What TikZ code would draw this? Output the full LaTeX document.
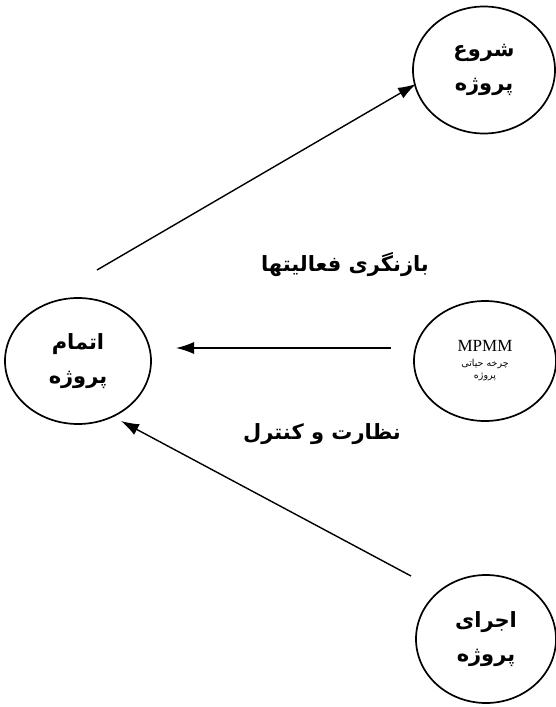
\documentclass[tikz,border=0pt]{standalone}
\usepackage{fontspec}
\usetikzlibrary{shapes.geometric,arrows.meta}
\TeXXeTstate=1
\setmainfont{Liberation Serif}
\newfontfamily\arabicfont[Script=Arabic]{DejaVu Sans}
\tikzset{
  circ/.style={draw, line width=1.7pt, ellipse, inner sep=0pt, align=center,
    font=\arabicfont\bfseries\fontsize{21}{34}\selectfont},
  conn/.style={line width=1.4pt, -{Latex[length=18pt,width=12pt]}},
  lbl/.style={font=\arabicfont\bfseries\fontsize{21}{24}\selectfont, inner sep=0pt}
}
\begin{document}
\begin{tikzpicture}[x=1pt,y=-1pt]
\useasboundingbox (0,0) rectangle (556,707);
\node[circ, minimum width=142pt, minimum height=127pt] (start) at (484,70)
  {\beginR شروع\endR\\\beginR پروژه\endR};
\node[circ, minimum width=146pt, minimum height=126pt] (finish) at (78,361)
  {\beginR اتمام\endR\\\beginR پروژه\endR};
\node[circ, minimum width=142pt, minimum height=120pt, font=\normalfont] (mpmm) at (485,361)
  {{\fontsize{17}{20}\selectfont MPMM}\\[3pt]
   {\arabicfont\fontsize{9.5}{15}\selectfont\beginR چرخه حیاتی\endR}\\
   {\arabicfont\fontsize{9.5}{15}\selectfont\beginR پروژه\endR}};
\node[circ, minimum width=140pt, minimum height=128pt] (exec) at (486,639)
  {\beginR اجرای\endR\\\beginR پروژه\endR};
\coordinate (a1s) at (97,270);
\coordinate (a1e) at (416,84);
\coordinate (a2s) at (391,348);
\coordinate (a2e) at (176,348);
\coordinate (a3s) at (411,576);
\coordinate (a3e) at (121,421);
\draw[conn] (a1s) -- (a1e);
\draw[conn] (a2s) -- (a2e);
\draw[conn] (a3s) -- (a3e);
\node[lbl] (rev) at (345,265) {\beginR بازنگری فعالیتها\endR};
\node[lbl] (ctl) at (322,434) {\beginR نظارت و کنترل\endR};
\end{tikzpicture}
\end{document}
